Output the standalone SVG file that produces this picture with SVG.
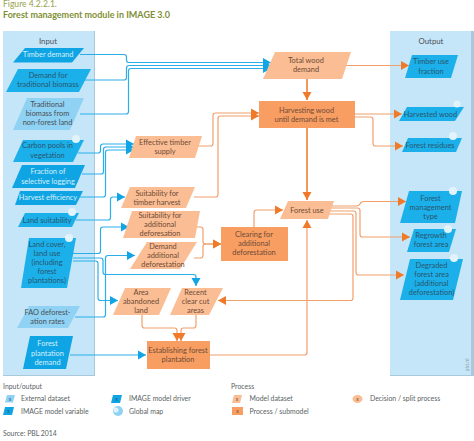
<svg xmlns="http://www.w3.org/2000/svg" width="474" height="441" viewBox="0 0 474 441">
<style>
text{font-family:"Lato","Open Sans","Liberation Sans",sans-serif;font-size:7.4px;fill:#4a4f55}
.c{text-anchor:middle}
.drv{fill:#0fa5e4}.var{fill:#1cb0ea}.ext{fill:#8fd2f4}.ds{fill:#fbbe94}.pr{fill:#f99e63}
text.w{fill:#d8effa}text.dk{fill:#27566f}text.br{fill:#6e4a36}
.panel{fill:#c5e6f8;stroke:none}.edge{fill:#a9c8da}
.globe{fill:#e3f3fb}
.b,.o{fill:none;stroke-linejoin:round}
.b{stroke:#2bade8;stroke-width:1.2;marker-end:url(#ab)}
.o{stroke:#f0a06c;stroke-width:1.2;marker-end:url(#ao)}
.ot{stroke:#ef8035;stroke-width:1.6}
text.leg{font-size:6.9px;fill:#5a5f63}
</style>
<defs>
<marker id="ab" markerUnits="userSpaceOnUse" markerWidth="10" markerHeight="10" refX="8" refY="5" orient="auto"><path d="M0 .5L8 5L0 9.500z" fill="#12a5e6"/></marker>
<marker id="ao" markerUnits="userSpaceOnUse" markerWidth="10" markerHeight="10" refX="8" refY="5" orient="auto"><path d="M0 .5L8 5L0 9.500z" fill="#ef7a2a"/></marker>
</defs>
<text x="3" y="6.500" style="font-size:8.600px;fill:#95a24e">Figure 4.2.2.1.</text>
<text x="3" y="18" style="font-size:9px;font-weight:700;fill:#808f35">Forest management module in IMAGE 3.0</text>
<g id="panels">
<rect class="edge" x="3" y="31" width="92" height="345"/><rect class="panel" x="3" y="31" width="91" height="344"/>
<rect class="edge" x="390" y="31" width="84" height="345"/><rect class="panel" x="390" y="31" width="81" height="344"/>
<text class="c" x="48" y="44" style="font-size:7.800px">Input</text>
<text class="c" x="431" y="44" style="font-size:7.800px">Output</text>
<text class="c" transform="translate(469,365) rotate(-90)" style="font-size:5.500px;fill:#8a9aa5">pbl.nl</text>
</g>
<g id="connectors">
<path class="b" d="M80 54.500H124Q126.500 54.500 126.500 57V60Q126.500 62.500 129 62.500H271"/>
<path class="b" d="M85 80H124Q126.500 80 126.500 77.500V68Q126.500 65.500 129 65.500H271"/>
<path class="b" d="M80 114H126Q128.500 114 128.500 111.500V71Q128.500 68.500 131 68.500H271"/>
<path class="b" d="M78 153H98Q100.500 153 100.500 150.500V146.500Q100.500 144 103 144H134"/>
<path class="b" d="M82 174H101Q103.500 174 103.500 171.500V149.500Q103.500 147 106 147H134"/>
<path class="b" d="M80 197H103Q105.500 197 105.500 194.500V152.500Q105.500 150 108 150H134"/>
<path class="b" d="M76 220H108Q110.500 220 110.500 217.500V199.500Q110.500 197 113 197H125"/>
<path class="b" d="M73 253.500H98Q100.500 253.500 100.500 251V229.500Q100.500 227 103 227H129"/>
<path class="b" d="M73 258H100.500Q103 258 103 260.500V272Q103 274.500 105.500 274.500H193.500Q196 274.500 196 277V286"/>
<path class="b" d="M73 261H95.500Q98 261 98 263.500V298Q98 300.500 100.500 300.500H118"/>
<path class="b" d="M75 317H103Q105.500 317 105.500 314.500V258Q105.500 255.500 108 255.500H135"/>
<path class="b" d="M70 355H146"/>
<path class="o" d="M345 65.500H409"/>
<path class="o" d="M198 146H210.500Q213 146 213 143.500V115.500Q213 113 215.500 113H259"/>
<path class="o" d="M194 197H215.500Q218 197 218 194.500V118.500Q218 116 220.500 116H259"/>
<path class="o" d="M355 114H402"/>
<path class="o" d="M355 117H370.500Q373 117 373 119.500V143.500Q373 146 375.500 146H403"/>
<path class="o ot" d="M307 79V100"/>
<path class="o ot" d="M307 128V200"/>
<path class="o" d="M332 206H356Q359 206 360 204Q361 201.500 364 201.500H406"/>
<path class="o" d="M331 208H357.500Q360 208 360 210.500V234.500Q360 237 362.500 237H410"/>
<path class="o" d="M330 211H353.500Q356 211 356 213.500V272.500Q356 275 358.500 275H404"/>
<path class="o" d="M329 214H350.500Q353 214 353 216.500V298Q353 300.500 350.500 300.500H218"/>
<path class="o" d="M210 355H304.500Q307 355 307 352.500V220"/>
<path class="o" d="M254 227V212.500Q254 210 256.500 210H283"/>
<path class="o" d="M195 227H200.500Q203 227 203 229.500V241.500Q203 244 205.500 244H221"/>
<path class="o" d="M194 258H200.500Q203 258 203 255.500V246.500Q203 244 205.500 244H221"/>
<path class="o" d="M142 315V325.500Q142 328 144.500 328H174.500Q177 328 177 330.500V341"/>
<path class="o" d="M196 315V325.500Q196 328 193.500 328H183.500Q181 328 181 330.500V341"/>
</g>
<g id="n-timber-demand"><polygon class="drv" points="13,62.500 25,48 84,48 72,62.500"/><text class="c w" x="48" y="57">Timber demand</text></g>
<g id="n-trad-biomass"><polygon class="var" points="6,92 18,69 91,69 79,92"/><text class="c dk" x="48" y="78">Demand for</text><text class="c dk" x="48" y="87">traditional biomass</text></g>
<g id="n-trad-nonforest"><polygon class="ext" points="13,130 27,98 84,98 70,130"/><text class="c" x="47.500" y="107">Traditional</text><text class="c" x="47.500" y="116">biomass from</text><text class="c" x="47.500" y="125">non-forest land</text></g>
<g id="n-carbon"><polygon class="var" points="13,162 23,140 84,140 73,162"/><circle class="globe" cx="76" cy="139" r="4"/><text class="c dk" x="47.500" y="148">Carbon pools in</text><text class="c dk" x="47.500" y="158">vegetation</text></g>
<g id="n-fraction"><polygon class="drv" points="12,188 22,165 85,165 75,188"/><text class="c w" x="48" y="174">Fraction of</text><text class="c w" x="48" y="183.500">selective logging</text></g>
<g id="n-harvest-eff"><polygon class="drv" points="15,205 20,191 83,191 76,205"/><text class="c w" x="48" y="200">Harvest efficiency</text></g>
<g id="n-land-suit"><polygon class="var" points="18,227 25,213 79,213 72,227"/><circle class="globe" cx="72" cy="212" r="4"/><text class="c dk" x="47" y="223">Land suitability</text></g>
<g id="n-land-cover"><polygon class="var" points="21,288 29,238 76,238 67,288"/><circle class="globe" cx="69" cy="238" r="4"/><text class="c dk" x="47" y="247">Land cover,</text><text class="c dk" x="47" y="256">land use</text><text class="c dk" x="47" y="265">(including</text><text class="c dk" x="47" y="274">forest</text><text class="c dk" x="47" y="283">plantations)</text></g>
<g id="n-fao"><polygon class="ext" points="17,328 29,306 80,306 68,328"/><text class="c" x="47.500" y="315">FAO deforest-</text><text class="c" x="47.500" y="324">ation rates</text></g>
<g id="n-plantation-demand"><polygon class="drv" points="23,369 30,336 73,336 66,369"/><text class="c w" x="47.500" y="345.500">Forest</text><text class="c w" x="47.500" y="355.500">plantation</text><text class="c w" x="47.500" y="364.500">demand</text></g>
<g id="n-total-wood"><polygon class="ds" points="263,79 275,52 351,52 342,79"/><text class="c br" x="306" y="63">Total wood</text><text class="c br" x="306" y="72">demand</text></g>
<g id="n-harvesting"><rect class="pr" x="259" y="101" width="96" height="27"/><text class="c br" x="306.500" y="112.500">Harvesting wood</text><text class="c br" x="306.500" y="121.500">until demand is met</text></g>
<g id="n-effective"><polygon class="ds" points="129,158 136,136 202,136 195,158"/><text class="c br" x="165" y="144.500">Effective timber</text><text class="c br" x="165" y="153.500">supply</text></g>
<g id="n-suit-timber"><polygon class="ds" points="121,208 130,187 195,187 186,208"/><text class="c br" x="157" y="195.500">Suitability for</text><text class="c br" x="157" y="204.500">timber harvest</text></g>
<g id="n-suit-add"><polygon class="ds" points="123,238 132,211 200,211 195,238"/><text class="c br" x="160" y="218">Suitability for</text><text class="c br" x="160" y="226.500">additional</text><text class="c br" x="160" y="236">deforesation</text></g>
<g id="n-demand-add"><polygon class="ds" points="130,269 147,242 197,242 180,269"/><text class="c br" x="163" y="248.500">Demand</text><text class="c br" x="163" y="257.500">additional</text><text class="c br" x="163" y="266.500">deforestation</text></g>
<g id="n-area"><polygon class="ds" points="113,315 125,288 171,288 159,315"/><text class="c br" x="141" y="294.500">Area</text><text class="c br" x="141" y="303.500">abandoned</text><text class="c br" x="141" y="312.500">land</text></g>
<g id="n-recent"><polygon class="ds" points="170,315 182,288 223,288 209,315"/><text class="c br" x="195.500" y="294.500">Recent</text><text class="c br" x="195.500" y="303.500">clear cut</text><text class="c br" x="195.500" y="312.500">areas</text></g>
<g id="n-establishing"><rect class="pr" x="147" y="341" width="63" height="28"/><text class="c br" x="178" y="353">Establishing forest</text><text class="c br" x="178" y="362">plantation</text></g>
<g id="n-clearing"><rect class="pr" x="221" y="227" width="67" height="34"/><text class="c br" x="254" y="236.500">Clearing for</text><text class="c br" x="254" y="246">additional</text><text class="c br" x="254" y="255">deforestation</text></g>
<g id="n-forest-use"><polygon class="ds" points="280,219 288,201 334,201 328,219"/><text class="c br" x="307" y="212.500">Forest use</text></g>
<g id="n-timber-use"><polygon class="var" points="405,78 412,55 458,55 451,78"/><text class="c dk" x="431" y="64">Timber use</text><text class="c dk" x="431" y="73.500">fraction</text></g>
<g id="n-harvested"><polygon class="var" points="399,121 407,107 464,107 455,121"/><circle class="globe" cx="457" cy="104" r="3.500"/><text class="c dk" x="430.500" y="116.500">Harvested wood</text></g>
<g id="n-residues"><polygon class="var" points="402,152 408,138 462,138 456,152"/><circle class="globe" cx="453" cy="136" r="4"/><text class="c dk" x="430" y="147.500">Forest residues</text></g>
<g id="n-mgmt"><polygon class="var" points="400,223 409,191 462,191 455,223"/><circle class="globe" cx="453" cy="191" r="4"/><text class="c dk" x="430.500" y="200.500">Forest</text><text class="c dk" x="430.500" y="209.500">management</text><text class="c dk" x="430.500" y="218.500">type</text></g>
<g id="n-regrowth"><polygon class="var" points="407,252 414,229 456,229 449,252"/><circle class="globe" cx="448" cy="229" r="4"/><text class="c dk" x="431" y="238">Regrowth</text><text class="c dk" x="431" y="247">forest area</text></g>
<g id="n-degraded"><polygon class="var" points="400,300 410,259 463,259 453,300"/><circle class="globe" cx="454" cy="258" r="4"/><text class="c dk" x="431.500" y="268">Degraded</text><text class="c dk" x="431.500" y="277">forest area</text><text class="c dk" x="431.500" y="286">(additional</text><text class="c dk" x="431.500" y="295">deforestation)</text></g>
<g id="legend">
<text class="leg" x="3" y="388.500">Input/output</text>
<polygon class="ext" points="5,402.500 7,395 15,395 13,402.500"/><text class="c dk" x="10" y="401" style="font-size:5px">x</text><text class="leg" x="21" y="401">External dataset</text>
<polygon class="drv" points="3,415 5,407 14,407 12,415"/><text class="c dk" x="8.500" y="413" style="font-size:5px">x</text><text class="leg" x="21" y="413.500">IMAGE model variable</text>
<polygon class="drv" points="111,403 113,395 122,395 120,403"/><text class="c dk" x="116.500" y="401" style="font-size:5px">x</text><text class="leg" x="129" y="401">IMAGE model driver</text>
<circle class="ext" cx="118" cy="411" r="5"/><circle class="globe" cx="116" cy="410" r="2.500"/><text class="leg" x="129" y="413.500">Global map</text>
<text class="leg" x="231" y="388.500">Process</text>
<polygon class="ds" points="232,403 234,395 242,395 240,403"/><text class="c br" x="237" y="401" style="font-size:5px">x</text><text class="leg" x="249.500" y="401">Model dataset</text>
<rect class="pr" x="232" y="407" width="11" height="8"/><text class="c br" x="237.500" y="413" style="font-size:5px">x</text><text class="leg" x="249.500" y="413.500">Process / submodel</text>
<ellipse class="ds" cx="357.500" cy="399" rx="5" ry="4"/><text class="c br" x="357.500" y="401" style="font-size:5px">x</text><text class="leg" x="370" y="401">Decision / split process</text>
<text class="leg" x="3" y="435.500">Source: PBL 2014</text>
</g>
</svg>
